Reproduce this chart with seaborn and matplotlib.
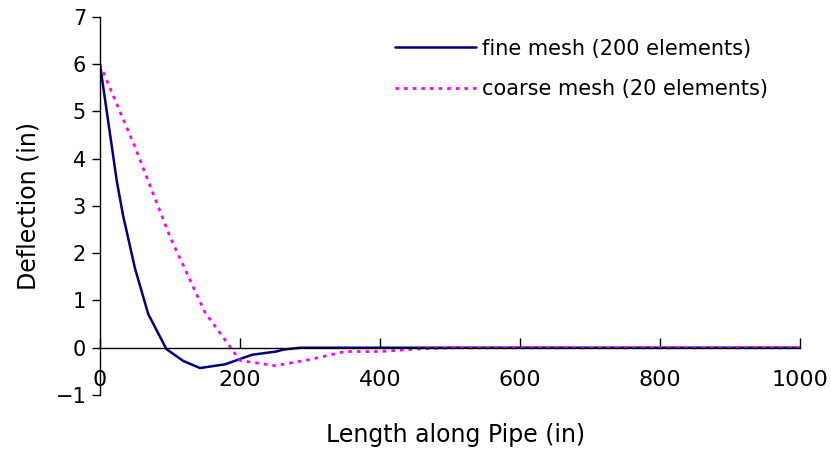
import matplotlib
matplotlib.use('Agg')
import numpy as np
import matplotlib.pyplot as plt
import seaborn as sns
import pandas as pd

# values
fine_x = [0, 24, 33, 50, 69, 95, 119, 143, 179, 217, 252, 262, 286, 400, 600, 800, 1000]
fine_y = [6.0, 3.53, 2.8, 1.68, 0.71, -0.03, -0.28, -0.43, -0.35, -0.15, -0.08, -0.04, 0.0, 0.0, 0.0, 0.0, 0.0]

coarse_x = [0, 50, 100, 150, 200, 250, 300, 350, 400, 450, 500, 550, 600, 650, 700, 750, 800, 850, 900, 950, 1000]
coarse_y = [6.0, 4.25, 2.35, 0.75, -0.27, -0.38, -0.25, -0.08, -0.08, -0.03, 0.0, 0.0, 0.0, 0.0, 0.0, 0.0, 0.0, 0.0, 0.0, 0.0, 0.0]

x_ticks = [0, 200, 400, 600, 800, 1000]
y_ticks = [-1, 0, 1, 2, 3, 4, 5, 6, 7]

sns.set_style('white')
plt.rcParams['font.family'] = ['DejaVu Sans']
plt.rcParams['text.color'] = 'black'
plt.rcParams['axes.labelcolor'] = 'black'

df_fine = pd.DataFrame({'x': fine_x, 'y': fine_y})
df_coarse = pd.DataFrame({'x': coarse_x, 'y': coarse_y})

f = plt.figure(figsize=(8.31, 4.54), dpi=100)
ax = f.add_axes([0.1203, 0.13, 0.8424, 0.8326])

sns.lineplot(x='x', y='y', data=df_fine, ax=ax, color='#000080', linewidth=1.8,
             sort=False, label='fine mesh (200 elements)')
sns.lineplot(x='x', y='y', data=df_coarse, ax=ax, color='#FF00FF', linewidth=2.0,
             linestyle=(0, (1.3, 1.8)), sort=False, label='coarse mesh (20 elements)')

ax.set_xlim(0, 1000)
ax.set_ylim(-1, 7)
ax.set_xticks(x_ticks)
ax.set_yticks(y_ticks)
ax.set_yticklabels(['\u22121'] + [str(v) for v in y_ticks[1:]])

# excel style: x axis crosses at y=0, no box
ax.spines['bottom'].set_position(('data', 0))
ax.spines['top'].set_visible(False)
ax.spines['right'].set_visible(False)
for s in ['left', 'bottom']:
    ax.spines[s].set_color('black')
    ax.spines[s].set_linewidth(1.0)

ax.tick_params(axis='x', direction='in', length=7, width=1, pad=16, labelsize=16, colors='black')
ax.tick_params(axis='y', direction='out', length=6, width=1, pad=4, labelsize=15, colors='black')
ax.tick_params(left=True, bottom=True)

ax.set_xlabel('')
ax.set_ylabel('Deflection (in)', fontsize=17, color='black', labelpad=11)
f.text(0.5487, 0.042, 'Length along Pipe (in)', fontsize=17, ha='center', va='center', color='black')

leg = ax.legend(loc='upper left', bbox_to_anchor=(0.475, 0.915), bbox_transform=f.transFigure,
                frameon=False, fontsize=15, handlelength=3.9, handletextpad=0.3,
                labelspacing=1.0, borderpad=0, borderaxespad=0)
for t in leg.get_texts():
    t.set_color('black')

plt.savefig('out.png', dpi=100)
